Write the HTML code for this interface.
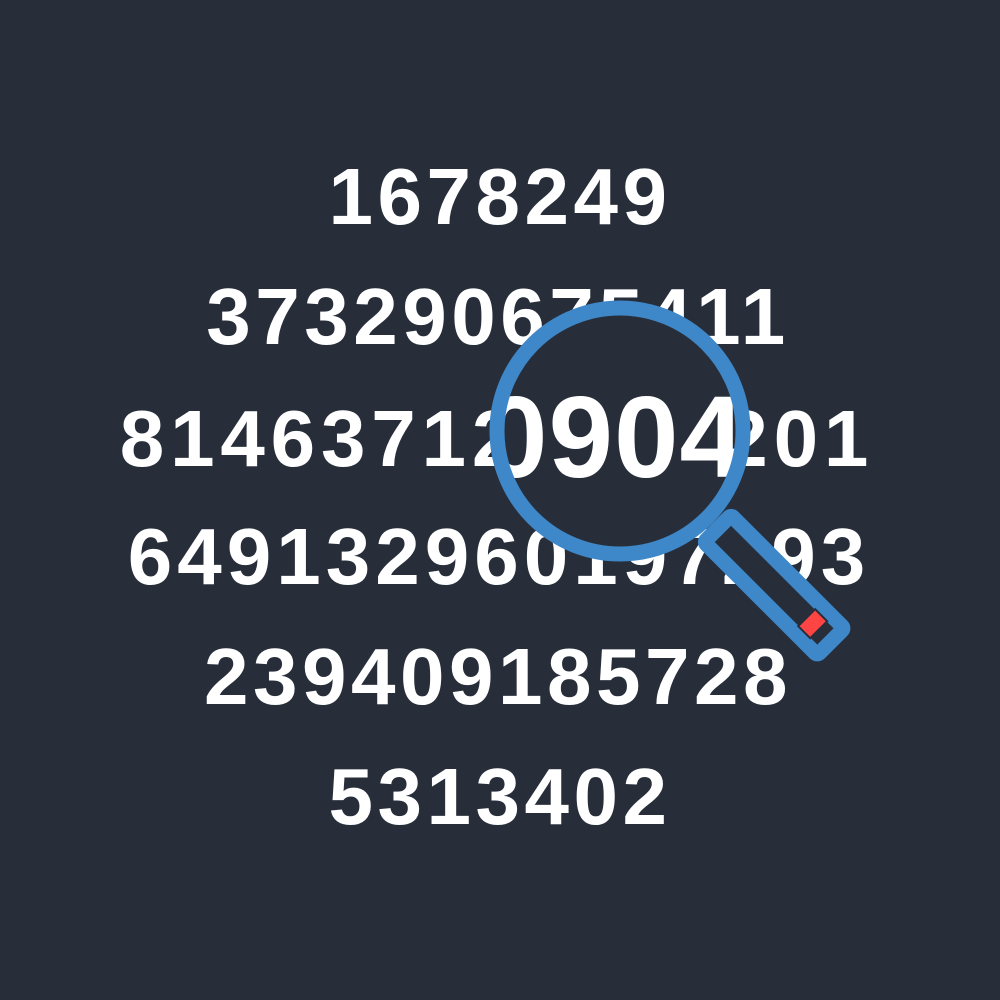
<!DOCTYPE html>
<html><head><meta charset="utf-8"><style>
html,body{margin:0;padding:0;background:#272e3a;}
svg{display:block;}
text{font-family:"Liberation Sans",sans-serif;font-weight:bold;fill:#ffffff;}
</style></head><body>
<svg width="1000" height="1000" viewBox="0 0 1000 1000">
<rect width="1000" height="1000" fill="#272e3a"/>
<defs><clipPath id="lens"><circle cx="620" cy="431" r="116"/></clipPath></defs>
<g font-size="80" text-anchor="middle">
<text x="500" y="224" letter-spacing="4.5">1678249</text>
<text x="498" y="344" letter-spacing="4.5">373290675411</text>
<text x="497" y="466" letter-spacing="5.8">814637120904201</text>
<text x="499" y="584" letter-spacing="5">649132960197293</text>
<text x="498" y="704" letter-spacing="4.5">239409185728</text>
<text x="500" y="824" letter-spacing="4.5">5313402</text>
</g>
<g transform="translate(620 431) rotate(45)">
<rect x="138" y="-19" width="160" height="38" rx="3" fill="#272e3a" stroke="#3e87c8" stroke-width="15" stroke-linejoin="round"/>
<rect x="264" y="-12" width="17" height="24" fill="#ff4444" stroke="#272e3a" stroke-width="2"/>
</g>
<circle cx="620" cy="431" r="122" fill="#272e3a"/>
<g clip-path="url(#lens)">
<text x="614" y="477" font-size="116" text-anchor="middle" letter-spacing="1">0904</text>
</g>
<circle cx="620" cy="431" r="123" fill="none" stroke="#3e87c8" stroke-width="15"/>
</svg>
</body></html>
